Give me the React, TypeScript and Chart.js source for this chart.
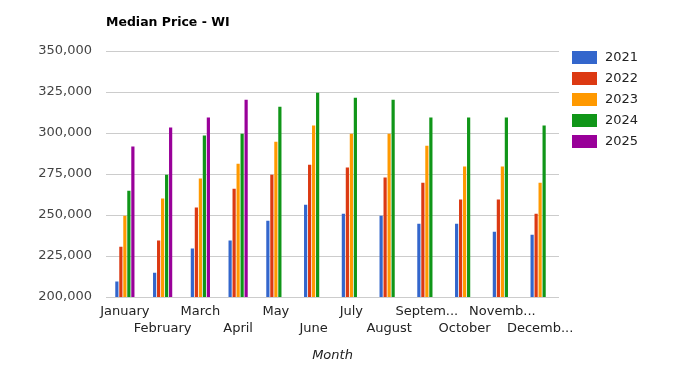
import React, { useEffect, useRef } from "react";
import { Chart, registerables } from "chart.js";

Chart.register(...registerables);

const chartTitle = "Median Price - WI";
const axisTitleX = "Month";
const months = ["January", "February", "March", "April", "May", "June", "July", "August", "September", "October", "November", "December"];
const monthTickLabels = ["January", "February", "March", "April", "May", "June", "July", "August", "Septem...", "October", "Novemb...", "Decemb..."];
const yTickValues = [200000, 225000, 250000, 275000, 300000, 325000, 350000];

const seriesNames = ["2021", "2022", "2023", "2024", "2025"];
const seriesColors = ["#3366cc", "#dc3912", "#ff9900", "#109618", "#990099"];

const values2021 = [209400, 214800, 229500, 234400, 246500, 256300, 250800, 249600, 244700, 244700, 239800, 238000];
const values2022 = [230700, 234400, 254500, 266000, 274600, 280700, 278900, 272800, 269700, 259400, 259400, 250800];
const values2023 = [249600, 260000, 272200, 281300, 294700, 304500, 299600, 299600, 292300, 279500, 279500, 269700];
const values2024 = [264800, 274600, 298400, 299600, 316000, 324600, 321500, 320300, 309400, 309400, 309400, 304500];
const values2025 = [291700, 303300, 309400, 320300, null, null, null, null, null, null, null, null];

const seriesValues = [values2021, values2022, values2023, values2024, values2025];

const FONT = "'DejaVu Sans', Verdana, sans-serif";

const titleLegendPlugin = {
  id: "titleLegend",
  afterDraw(chart: any) {
    const ctx = chart.ctx;
    ctx.save();
    ctx.fillStyle = "#000000";
    ctx.font = `bold 12.5px ${FONT}`;
    ctx.textAlign = "left";
    ctx.textBaseline = "middle";
    ctx.fillText(chartTitle, chart.chartArea.left, 23);

    const lx = 572;
    const ly = 51;
    chart.data.datasets.forEach((ds: any, i: number) => {
      const y = ly + i * 21;
      ctx.fillStyle = ds.backgroundColor;
      ctx.fillRect(lx, y, 25, 13);
      ctx.fillStyle = "#222222";
      ctx.font = `13px ${FONT}`;
      ctx.textBaseline = "middle";
      ctx.fillText(ds.label, lx + 33, y + 7);
    });
    ctx.restore();
  },
};

export default function App() {
  const canvasRef = useRef<HTMLCanvasElement | null>(null);

  useEffect(() => {
    if (!canvasRef.current) return;
    const chart = new Chart(canvasRef.current, {
      type: "bar",
      data: {
        labels: months,
        datasets: seriesNames.map((name, i) => ({
          label: name,
          data: seriesValues[i],
          backgroundColor: seriesColors[i],
          borderWidth: 0,
          categoryPercentage: 0.53,
          barPercentage: 0.8,
        })),
      },
      options: {
        responsive: false,
        animation: false,
        layout: { padding: { top: 51, right: 136, bottom: 8, left: 0 } },
        plugins: {
          legend: { display: false },
          title: { display: false },
          tooltip: { enabled: false },
        },
        scales: {
          x: {
            grid: { display: false, drawTicks: false },
            border: { display: false },
            ticks: {
              autoSkip: false,
              maxRotation: 0,
              minRotation: 0,
              padding: 6,
              color: "#222222",
              font: { family: FONT, size: 13, lineHeight: 1.3 },
              callback: (_v: any, index: number) =>
                index % 2 === 0 ? monthTickLabels[index] : ["", monthTickLabels[index]],
            },
            title: {
              display: true,
              text: axisTitleX,
              color: "#222222",
              padding: 0,
              font: { family: FONT, size: 13, style: "italic" },
            },
            afterFit: (scale: any) => {
              scale.height = 66;
            },
          },
          y: {
            min: yTickValues[0],
            max: yTickValues[yTickValues.length - 1],
            grid: { color: "#cccccc", drawTicks: false, lineWidth: 1 },
            border: { display: false },
            afterBuildTicks: (scale: any) => {
              scale.ticks = yTickValues.map((v) => ({ value: v }));
            },
            ticks: {
              padding: 14,
              color: "#444444",
              font: { family: FONT, size: 13 },
              callback: (v: any) => Number(v).toLocaleString("en-US"),
            },
            afterFit: (scale: any) => {
              scale.width = 106;
            },
          },
        },
      },
      plugins: [titleLegendPlugin],
    });
    return () => chart.destroy();
  }, []);

  return (
    <div style={{ position: "fixed", left: 0, top: 0, width: 695, height: 371, background: "#ffffff" }}>
      <canvas ref={canvasRef} width={695} height={371} />
    </div>
  );
}
